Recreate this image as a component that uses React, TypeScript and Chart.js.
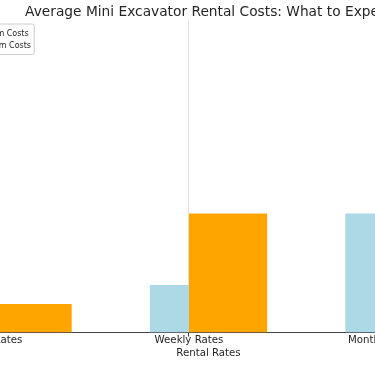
import React, { useEffect, useRef } from 'react';
import { Chart, registerables } from 'chart.js';

Chart.register(...registerables);

// ---- data ----
const categories = ['Daily Rates', 'Weekly Rates', 'Monthly Rates'];
const minCosts = [100, 400, 1000];
const maxCosts = [240, 1000, 2500];
const seriesLabels = ['Minimum Costs', 'Maximum Costs'];
const seriesColors = ['#ADD8E6', '#FFA500'];
const titleText = 'Average Mini Excavator Rental Costs: What to Expect';
const xAxisTitle = 'Rental Rates';

// bar widths in category units (matplotlib-like)
const MIN_W = 0.2;
const MAX_W = 0.4;
const PAIR_GAP = MIN_W / 2 + MAX_W / 2;
const span = categories.length - 1 + MIN_W + MAX_W;
const X_MIN = -MIN_W - 0.05 * span;
const X_MAX = categories.length - 1 + MAX_W + 0.05 * span;
const Y_MAX = 1.05 * Math.max(...minCosts, ...maxCosts);

const FONT = 'DejaVu Sans';
const TEXT = '#262626';

const mplLegend = {
  id: 'mplLegend',
  afterDraw(chart: any) {
    const { ctx, chartArea } = chart;
    const fs = 8;
    const pad = 3.2;
    const handleW = 16;
    const handleH = 5.6;
    const gap = 6.4;
    const rowH = 12;
    ctx.save();
    ctx.font = `${fs}px "${FONT}"`;
    const ds = chart.data.datasets;
    const maxW = Math.max(...ds.map((d: any) => ctx.measureText(d.label).width));
    const x0 = chartArea.left + 12.5;
    const y0 = chartArea.top + 4;
    const w = pad + handleW + gap + maxW + pad;
    const h = pad * 2 + rowH * ds.length;
    ctx.beginPath();
    const r = 2;
    ctx.moveTo(x0 + r, y0);
    ctx.lineTo(x0 + w - r, y0);
    ctx.quadraticCurveTo(x0 + w, y0, x0 + w, y0 + r);
    ctx.lineTo(x0 + w, y0 + h - r);
    ctx.quadraticCurveTo(x0 + w, y0 + h, x0 + w - r, y0 + h);
    ctx.lineTo(x0 + r, y0 + h);
    ctx.quadraticCurveTo(x0, y0 + h, x0, y0 + h - r);
    ctx.lineTo(x0, y0 + r);
    ctx.quadraticCurveTo(x0, y0, x0 + r, y0);
    ctx.closePath();
    ctx.fillStyle = 'rgba(255,255,255,0.8)';
    ctx.fill();
    ctx.strokeStyle = '#cccccc';
    ctx.lineWidth = 1;
    ctx.stroke();
    ds.forEach((d: any, i: number) => {
      const cy = y0 + pad + rowH * i + rowH / 2 + 1;
      ctx.fillStyle = d.backgroundColor;
      ctx.fillRect(x0 + pad, cy - handleH / 2, handleW, handleH);
      ctx.fillStyle = TEXT;
      ctx.textBaseline = 'middle';
      ctx.textAlign = 'left';
      ctx.fillText(d.label, x0 + pad + handleW + gap, cy);
    });
    ctx.restore();
  },
};

export default function App() {
  const ref = useRef<HTMLCanvasElement>(null);

  useEffect(() => {
    const chart = new Chart(ref.current as HTMLCanvasElement, {
      type: 'bar',
      data: {
        datasets: [
          {
            label: seriesLabels[0],
            data: minCosts.map((v, i) => ({ x: i - MIN_W / 2, y: v })),
            backgroundColor: seriesColors[0],
            borderWidth: 0,
            grouped: false,
            categoryPercentage: 1,
            barPercentage: MIN_W / PAIR_GAP,
          },
          {
            label: seriesLabels[1],
            data: maxCosts.map((v, i) => ({ x: i + MAX_W / 2, y: v })),
            backgroundColor: seriesColors[1],
            borderWidth: 0,
            grouped: false,
            categoryPercentage: 1,
            barPercentage: MAX_W / PAIR_GAP,
          },
        ],
      } as any,
      options: {
        responsive: false,
        animation: false,
        layout: { padding: { left: 10, right: 10, top: 0, bottom: 0 } },
        plugins: {
          legend: { display: false },
          tooltip: { enabled: false },
          title: {
            display: true,
            text: titleText,
            color: TEXT,
            font: { family: FONT, size: 13.75, weight: 'normal', lineHeight: 1.13 },
            padding: { top: 4.5, bottom: 0 },
          },
        },
        scales: {
          x: {
            type: 'linear',
            offset: false,
            min: X_MIN,
            max: X_MAX,
            afterBuildTicks: (scale: any) => {
              scale.ticks = categories.map((_, i) => ({ value: i }));
            },
            ticks: {
              callback: (v: any) => categories[v] ?? '',
              autoSkip: false,
              maxRotation: 0,
              color: TEXT,
              font: { family: FONT, size: 10.2, lineHeight: 1 },
              padding: -1,
            },
            grid: {
              display: true,
              offset: false,
              color: '#e0e0e0',
              lineWidth: 1,
              tickLength: 4,
              tickColor: '#444444',
            },
            border: { display: true, color: '#444444', width: 1 },
            title: {
              display: true,
              text: xAxisTitle,
              color: TEXT,
              font: { family: FONT, size: 10.2, lineHeight: 1 },
              padding: { top: 3, bottom: 8 },
            },
          },
          y: {
            display: false,
            min: 0,
            max: Y_MAX,
          },
        },
      } as any,
      plugins: [mplLegend],
    });
    return () => chart.destroy();
  }, []);

  return (
    <div
      style={{
        position: 'fixed',
        left: 0,
        top: 0,
        width: 375,
        height: 366,
        overflow: 'hidden',
        background: '#ffffff',
      }}
    >
      <canvas
        ref={ref}
        width={579}
        height={366}
        style={{ position: 'absolute', left: -81, top: 0, width: 579, height: 366 }}
      />
    </div>
  );
}
